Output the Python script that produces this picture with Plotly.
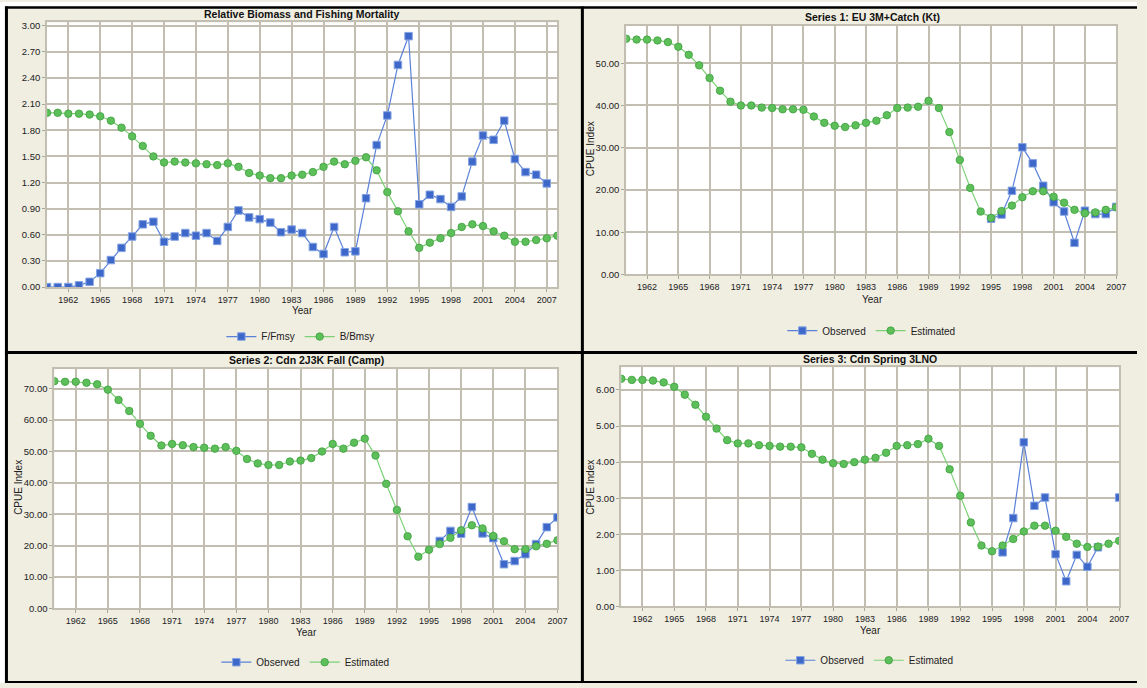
import plotly.graph_objects as go

W, H = 1147, 688

# ---------------- data ----------------
years_p1 = list(range(1960, 2009))  # 1960-2008
f_fmsy = [0.00, 0.00, 0.00, 0.02, 0.06, 0.16, 0.31, 0.45, 0.58, 0.72,
          0.75, 0.52, 0.58, 0.62, 0.59, 0.62, 0.53, 0.69, 0.88, 0.80,
          0.78, 0.74, 0.63, 0.66, 0.62, 0.46, 0.38, 0.69, 0.40, 0.41,
          1.02, 1.63, 1.97, 2.55, 2.88, 0.95, 1.06, 1.01, 0.92, 1.04,
          1.44, 1.74, 1.69, 1.91, 1.47, 1.32, 1.29, 1.19, None]
b_bmsy = [2.00, 2.00, 1.99, 1.99, 1.98, 1.96, 1.91, 1.83, 1.73, 1.62,
          1.50, 1.43, 1.44, 1.43, 1.42, 1.41, 1.40, 1.42, 1.38, 1.31,
          1.28, 1.25, 1.25, 1.28, 1.29, 1.32, 1.38, 1.44, 1.41, 1.45,
          1.49, 1.34, 1.09, 0.87, 0.64, 0.45, 0.51, 0.56, 0.62, 0.69,
          0.72, 0.70, 0.64, 0.59, 0.52, 0.52, 0.54, 0.56, 0.59]

years = list(range(1960, 2008))  # 1960-2007

s1_est = [55.8, 55.6, 55.6, 55.4, 55.0, 53.9, 52.0, 49.5, 46.5, 43.5,
          40.9, 40.0, 40.0, 39.5, 39.4, 39.1, 39.1, 39.0, 37.4, 35.9,
          35.2, 34.9, 35.3, 35.9, 36.4, 37.7, 39.4, 39.5, 39.7, 41.1,
          39.4, 33.7, 27.1, 20.5, 14.9, 13.4, 15.0, 16.3, 18.3, 19.7,
          19.7, 18.4, 17.0, 15.3, 14.5, 14.7, 15.3, 15.9]
s1_obs = [None] * 35 + [13.2, 14.2, 19.8, 30.1, 26.3, 21.0, 17.1, 14.9,
                         7.5, 15.1, 14.3, 14.3, 16.0]

s2_est = [72.4, 72.2, 72.2, 71.9, 71.4, 69.7, 66.4, 62.9, 58.8, 55.0,
          51.9, 52.4, 52.0, 51.4, 51.2, 50.9, 51.4, 50.2, 47.6, 46.2,
          45.7, 45.7, 46.8, 47.1, 47.9, 50.0, 52.4, 50.9, 52.8, 54.1,
          48.7, 39.7, 31.4, 23.0, 16.5, 18.7, 20.5, 22.5, 24.9, 26.5,
          25.5, 23.1, 21.4, 18.9, 18.9, 19.8, 20.6, 21.7]
s2_obs = [None] * 36 + [21.5, 24.7, 23.8, 32.3, 23.9, 22.4, 14.1, 15.1,
                         17.3, 20.5, 25.9, 29.0]

s3_est = [6.31, 6.28, 6.28, 6.26, 6.21, 6.09, 5.87, 5.59, 5.26, 4.93,
          4.61, 4.52, 4.52, 4.47, 4.45, 4.43, 4.43, 4.41, 4.23, 4.07,
          3.97, 3.95, 4.00, 4.07, 4.12, 4.26, 4.45, 4.47, 4.50, 4.65,
          4.45, 3.80, 3.07, 2.33, 1.69, 1.53, 1.69, 1.87, 2.08, 2.24,
          2.24, 2.10, 1.93, 1.74, 1.65, 1.66, 1.74, 1.82]
s3_obs = [None] * 36 + [1.50, 2.45, 4.55, 2.79, 3.02, 1.45, 0.70, 1.43,
                         1.10, 1.64, None, 3.02]

x_ticks = list(range(1962, 2008, 3))

titles = ["Relative Biomass and Fishing Mortality",
          "Series 1: EU 3M+Catch (Kt)",
          "Series 2: Cdn 2J3K Fall (Camp)",
          "Series 3: Cdn Spring 3LNO"]

# ---------------- styling ----------------
FONT = "Liberation Sans, Arial, sans-serif"
BLUE_FILL = "#3D68C9"
BLUE_EDGE = "#86A4E2"
BLUE_LINE = "#5A81D8"
GREEN_FILL = "#5CBF5A"
GREEN_EDGE = "#3F9E3E"
GREEN_LINE = "#7BD174"
GRID = "#C2BEB1"
BEIGE = "#F0EDE1"
TXT = "#222222"


def px_x(x):
    return x / W


def px_y(y):
    return 1 - y / H


def blue_trace(x, y, name, n, legend):
    return go.Scatter(
        x=x, y=y, name=name, mode="lines+markers",
        xaxis="x" + ("" if n == 1 else str(n)),
        yaxis="y" + ("" if n == 1 else str(n)),
        legend=legend, connectgaps=False,
        line=dict(color=BLUE_LINE, width=1.2),
        marker=dict(symbol="square", size=7.5, color=BLUE_FILL,
                    line=dict(color=BLUE_EDGE, width=1)))


def green_trace(x, y, name, n, legend):
    return go.Scatter(
        x=x, y=y, name=name, mode="lines+markers",
        xaxis="x" + ("" if n == 1 else str(n)),
        yaxis="y" + ("" if n == 1 else str(n)),
        legend=legend, connectgaps=False,
        line=dict(color=GREEN_LINE, width=1.2),
        marker=dict(symbol="circle", size=7.5, color=GREEN_FILL,
                    line=dict(color=GREEN_EDGE, width=0.8)))


fig = go.Figure()
fig.add_trace(blue_trace(years_p1, f_fmsy, "F/Fmsy", 1, "legend"))
fig.add_trace(green_trace(years_p1, b_bmsy, "B/Bmsy", 1, "legend"))
fig.add_trace(blue_trace(years, s1_obs, "Observed", 2, "legend2"))
fig.add_trace(green_trace(years, s1_est, "Estimated", 2, "legend2"))
fig.add_trace(blue_trace(years, s2_obs, "Observed", 3, "legend3"))
fig.add_trace(green_trace(years, s2_est, "Estimated", 3, "legend3"))
fig.add_trace(blue_trace(years, s3_obs, "Observed", 4, "legend4"))
fig.add_trace(green_trace(years, s3_est, "Estimated", 4, "legend4"))

# plot-area boxes in pixels: (left, right, top, bottom), x-range, y-range, dtick
panels = [
    dict(box=(47.5, 562.3, 20.7, 288.0), xr=[1960, 2008], yr=[0, 3.037], dt=0.3),
    dict(box=(631.7, 1126.0, 24.3, 275.3), xr=[1960, 2007], yr=[0, 58.8], dt=10),
    dict(box=(54.8, 562.4, 371.0, 612.7), xr=[1960, 2007], yr=[0, 76.2], dt=10),
    dict(box=(626.7, 1129.0, 369.0, 610.7), xr=[1960, 2007], yr=[0, 6.63], dt=1),
]

layout = dict(
    width=W, height=H,
    margin=dict(l=0, r=0, t=0, b=0),
    paper_bgcolor=BEIGE, plot_bgcolor="white",
    font=dict(family=FONT, size=10, color=TXT),
    showlegend=True,
)

for i, p in enumerate(panels, start=1):
    l, r, t, b = p["box"]
    sx = "" if i == 1 else str(i)
    layout["xaxis" + sx] = dict(
        domain=[px_x(l), px_x(r)], range=p["xr"], anchor="y" + sx,
        tickmode="array", tickvals=x_ticks, ticktext=[str(v) for v in x_ticks],
        showgrid=True, gridcolor=GRID, gridwidth=1.8,
        showline=True, mirror=True, linecolor=GRID, linewidth=1.8,
        ticks="outside", ticklen=3, tickcolor="#A9A599", tickwidth=1,
        tickfont=dict(size=9, color=TXT), zeroline=False, fixedrange=True)
    layout["yaxis" + sx] = dict(
        domain=[px_y(b), px_y(t)], range=p["yr"], anchor="x" + sx,
        dtick=p["dt"], tick0=0, tickformat=".2f",
        showgrid=True, gridcolor=GRID, gridwidth=1.8,
        showline=True, mirror=True, linecolor=GRID, linewidth=1.8,
        ticks="outside", ticklen=3, tickcolor="#A9A599", tickwidth=1,
        tickfont=dict(size=9.5, color=TXT), zeroline=False, fixedrange=True)

# legends
legend_pos = [(303, 338), (879, 332), (308, 667), (877, 665)]
for i, (lx, ly) in enumerate(legend_pos, start=1):
    key = "legend" if i == 1 else "legend" + str(i)
    layout[key] = dict(
        x=px_x(lx), y=px_y(ly), xanchor="center", yanchor="middle",
        orientation="h", bgcolor="rgba(0,0,0,0)",
        font=dict(size=10, color=TXT), itemwidth=30,
        tracegroupgap=0, itemclick=False, itemdoubleclick=False)

annotations = []
title_pos = [(305, 12.5), (880, 15), (309, 362), (878, 361)]
for txt, (tx, ty) in zip(titles, title_pos):
    annotations.append(dict(
        text="<b>" + txt + "</b>", x=px_x(tx), y=px_y(ty), xref="paper",
        yref="paper", xanchor="center", yanchor="middle", showarrow=False,
        font=dict(size=10.5, color="#111111")))
for (yx, yy) in [(305, 311.5), (880, 301), (309, 637), (878, 635)]:
    annotations.append(dict(
        text="Year", x=px_x(yx), y=px_y(yy), xref="paper", yref="paper",
        xanchor="center", yanchor="middle", showarrow=False,
        font=dict(size=10, color=TXT)))
for (cx, cy) in [(596, 148), (18, 490), (595, 490)]:
    annotations.append(dict(
        text="CPUE Index", x=px_x(cx), y=px_y(cy), xref="paper", yref="paper",
        xanchor="center", yanchor="middle", showarrow=False, textangle=-90,
        font=dict(size=10, color=TXT)))
layout["annotations"] = annotations

shapes = []
# white outer strips
shapes.append(dict(type="rect", xref="paper", yref="paper", x0=0, x1=px_x(5),
                   y0=0, y1=1, fillcolor="white", line=dict(width=0)))
shapes.append(dict(type="rect", xref="paper", yref="paper", x0=0, x1=1,
                   y0=px_y(4.5), y1=1, fillcolor="white", line=dict(width=0)))


def hline(y, x0, x1, w):
    shapes.append(dict(type="line", xref="paper", yref="paper",
                       x0=px_x(x0), x1=px_x(x1), y0=px_y(y), y1=px_y(y),
                       line=dict(color="black", width=w)))


def vline(x, y0, y1, w):
    shapes.append(dict(type="line", xref="paper", yref="paper",
                       x0=px_x(x), x1=px_x(x), y0=px_y(y0), y1=px_y(y1),
                       line=dict(color="black", width=w)))


hline(5.5, 5, 1147, 2.5)
hline(354, 5, 1147, 3)
hline(687, 5, 1147, 2)
vline(6.5, 4.5, 688, 3)
vline(587.5, 4.5, 688, 3)
layout["shapes"] = shapes

fig.update_layout(**layout)
fig.write_html("out.html")
